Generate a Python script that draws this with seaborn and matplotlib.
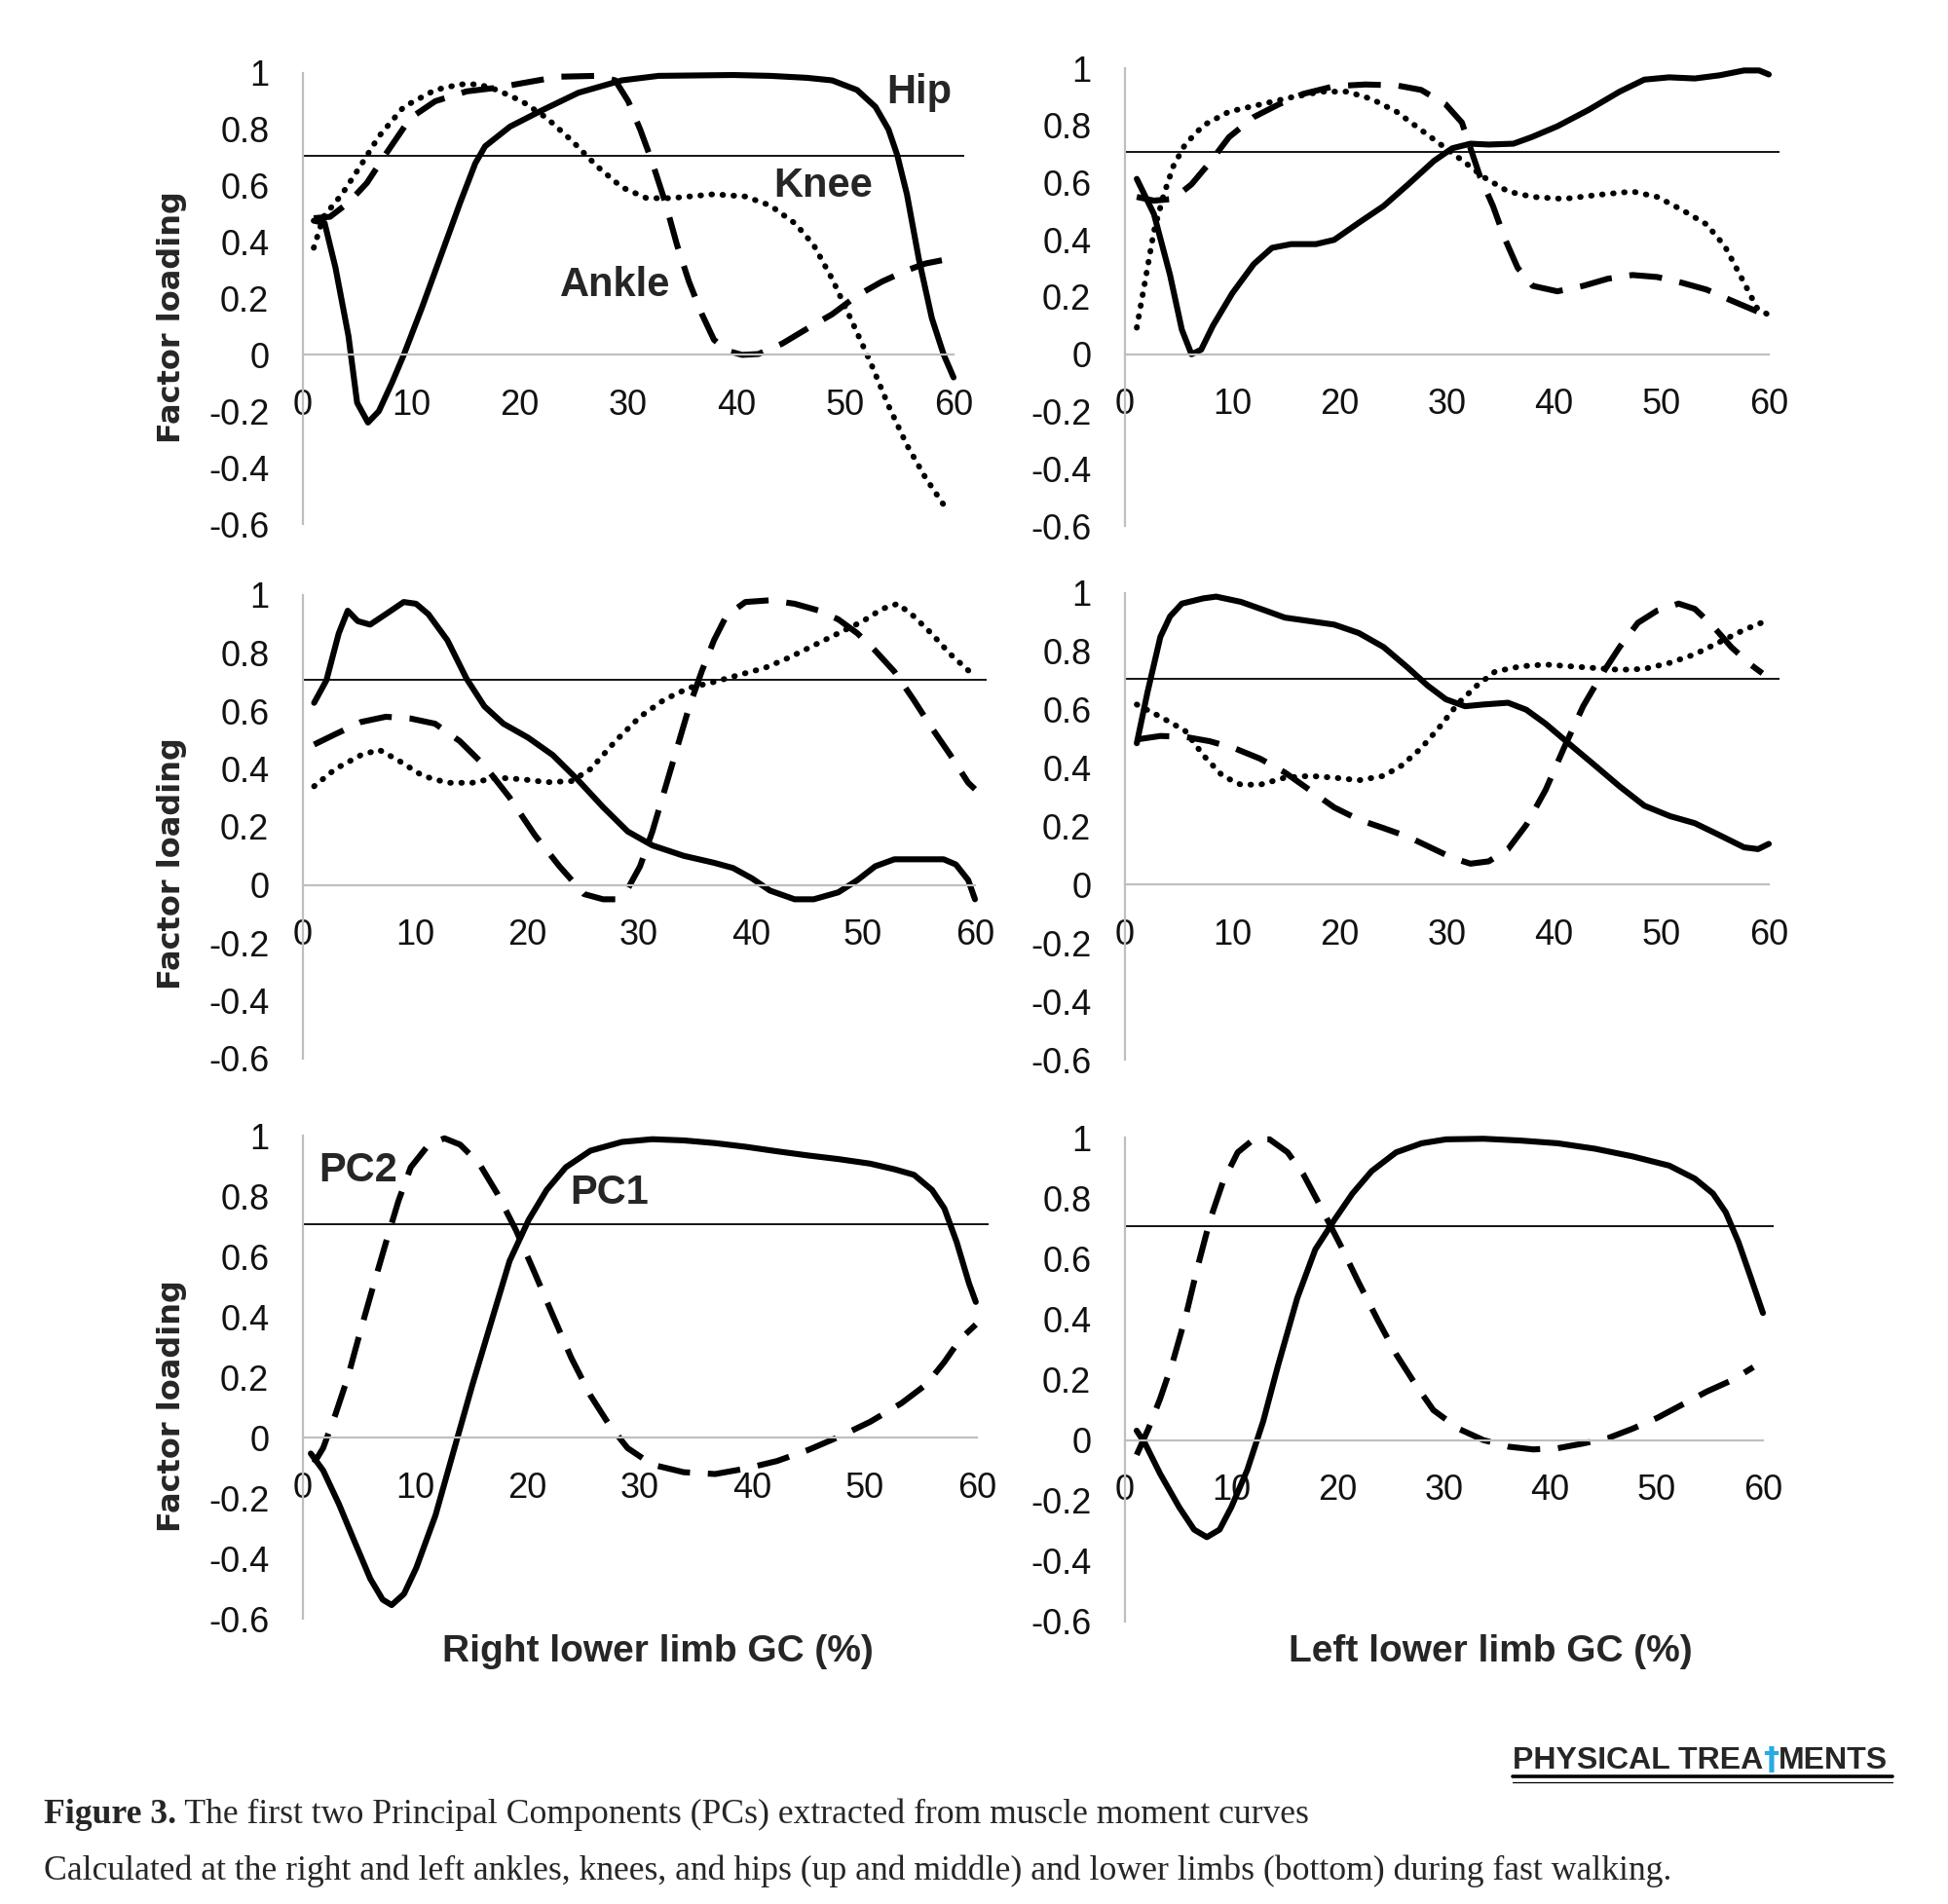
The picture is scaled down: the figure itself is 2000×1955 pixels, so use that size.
# Figure 3 - PCs from muscle moment curves (fast walking)
import matplotlib
matplotlib.use("Agg")
import matplotlib.pyplot as plt
import seaborn as sns
from matplotlib.lines import Line2D

sns.set_style("white")
plt.rcParams['font.family'] = ['Liberation Sans', 'DejaVu Sans']

# ---------------- datos ----------------
# fila superior, derecha (Hip / Knee / Ankle)
tl_hip_x = [1, 2, 3, 4.2, 5, 6, 7, 8.2, 9.3, 11, 12.8, 14.5, 15.9, 16.8, 19.1, 21.9, 25.4, 29.4, 32.8, 39.7, 43.1, 46.5, 48.8, 51.1, 52.8, 54, 54.8, 55.7, 56.8, 58, 59.1, 60]
tl_hip_y = [0.476, 0.468, 0.31, 0.067, -0.17, -0.24, -0.2, -0.10, 0.0, 0.17, 0.36, 0.54, 0.68, 0.74, 0.81, 0.865, 0.93, 0.974, 0.99, 0.993, 0.99, 0.983, 0.974, 0.94, 0.88, 0.80, 0.71, 0.57, 0.34, 0.13, 0.0, -0.08]
tl_knee_x = [1, 1.9, 3.6, 5.3, 7, 9.3, 12.2, 14.5, 16.2, 17.9, 20.2, 22.5, 24.8, 27.1, 29.4, 31.7, 33.9, 37.9, 40.8, 43.1, 45.4, 47.1, 48.8, 50.5, 52.3, 54, 55.7, 57.4, 59.4]
tl_knee_y = [0.38, 0.49, 0.57, 0.67, 0.775, 0.88, 0.94, 0.96, 0.96, 0.94, 0.90, 0.84, 0.76, 0.67, 0.595, 0.556, 0.556, 0.57, 0.562, 0.53, 0.466, 0.39, 0.27, 0.13, -0.023, -0.18, -0.32, -0.435, -0.55]
tl_ankle_x = [1, 2.5, 4.2, 5.9, 7.6, 9.9, 12.2, 15.1, 17.9, 20.8, 23.6, 27.1, 28.8, 30, 31.1, 32.2, 33.4, 34.5, 35.6, 36.8, 37.9, 39.1, 40.5, 42, 44.2, 46.5, 48.8, 51.1, 53.4, 55.7, 57.4, 59.1, 60]
tl_ankle_y = [0.485, 0.49, 0.54, 0.61, 0.71, 0.84, 0.90, 0.935, 0.948, 0.968, 0.987, 0.99, 0.974, 0.90, 0.80, 0.685, 0.543, 0.39, 0.26, 0.144, 0.054, 0.015, 0.0, 0.003, 0.04, 0.093, 0.144, 0.21, 0.26, 0.30, 0.324, 0.337, 0.324]

# fila superior, izquierda
tr_hip_x = [1.1, 2.7, 4.2, 5.3, 6.2, 7.1, 8.2, 10, 12, 13.7, 15.5, 17.8, 19.5, 21.8, 24.1, 26.4, 28.8, 30.5, 32.2, 33.9, 36.2, 37.9, 40.3, 43.2, 46.1, 48.4, 50.7, 53.1, 55.4, 57.7, 59.1, 60]
tr_hip_y = [0.613, 0.49, 0.277, 0.086, 0.0, 0.016, 0.10, 0.213, 0.315, 0.372, 0.385, 0.385, 0.40, 0.46, 0.518, 0.594, 0.676, 0.72, 0.736, 0.733, 0.736, 0.759, 0.797, 0.854, 0.918, 0.96, 0.968, 0.964, 0.975, 0.992, 0.992, 0.978]
tr_knee_x = [1.1, 1.85, 2.7, 3.6, 4.5, 5.6, 7.3, 9.7, 12.6, 15.5, 18.3, 20.7, 23, 25.3, 27.6, 29.9, 31.7, 33.4, 35.7, 38, 40.9, 43.8, 47.3, 49.6, 51.9, 54.2, 55.9, 57.7, 58.9, 60]
tr_knee_y = [0.093, 0.25, 0.43, 0.556, 0.657, 0.733, 0.80, 0.848, 0.873, 0.898, 0.918, 0.918, 0.892, 0.848, 0.784, 0.72, 0.67, 0.62, 0.569, 0.55, 0.543, 0.556, 0.569, 0.55, 0.505, 0.454, 0.378, 0.25, 0.162, 0.137]
tr_ankle_x = [1.1, 2.7, 4.5, 6.2, 7.9, 9.7, 12, 14.3, 16.6, 19.5, 22.4, 25.3, 27.6, 29.9, 31.4, 32.2, 33.1, 34.3, 35.4, 36.6, 38, 40.3, 42.7, 45, 47.3, 49.6, 51.9, 54.2, 56.5, 58.9, 60]
tr_ankle_y = [0.55, 0.537, 0.543, 0.594, 0.67, 0.759, 0.829, 0.873, 0.91, 0.937, 0.943, 0.94, 0.924, 0.873, 0.81, 0.72, 0.62, 0.518, 0.404, 0.302, 0.239, 0.22, 0.239, 0.264, 0.277, 0.27, 0.25, 0.226, 0.188, 0.15, 0.13]

# fila del medio, derecha
ml_hip_x = [1, 2.1, 3.2, 4, 4.9, 6, 7.4, 9, 10.1, 11.2, 12.9, 14.6, 16.2, 17.9, 20.1, 22.3, 24.5, 26.8, 29, 31.2, 34, 36.7, 38.4, 40.1, 41.7, 43.9, 45.6, 47.8, 49.5, 51.1, 52.8, 55, 57.2, 58.3, 59.4, 60]
ml_hip_y = [0.628, 0.706, 0.868, 0.946, 0.91, 0.898, 0.934, 0.976, 0.97, 0.934, 0.844, 0.712, 0.616, 0.556, 0.508, 0.448, 0.364, 0.268, 0.184, 0.136, 0.10, 0.076, 0.058, 0.022, -0.02, -0.05, -0.05, -0.026, 0.016, 0.064, 0.088, 0.088, 0.088, 0.07, 0.016, -0.05]
ml_knee_x = [1, 2.9, 5.2, 6.8, 8.5, 10.7, 12.9, 15.1, 17.3, 19.6, 21.8, 24, 25.7, 27.9, 30.1, 32.3, 34.5, 36.7, 38.9, 41.2, 43.4, 45.6, 47.8, 50, 51.7, 53.1, 54.5, 56.1, 57.8, 59.4, 60]
ml_knee_y = [0.34, 0.40, 0.448, 0.466, 0.43, 0.376, 0.352, 0.352, 0.37, 0.364, 0.354, 0.358, 0.40, 0.496, 0.58, 0.64, 0.68, 0.70, 0.724, 0.748, 0.784, 0.826, 0.868, 0.91, 0.952, 0.97, 0.928, 0.868, 0.796, 0.74, 0.72]
ml_ankle_x = [1, 2.9, 5.2, 7.4, 9.6, 11.8, 14, 16.2, 18.4, 20.7, 22.9, 25.1, 26.8, 27.9, 29, 30.1, 31.2, 32.3, 33.4, 34.5, 35.6, 36.7, 37.8, 39.5, 41.7, 43.9, 46.1, 47.8, 49.5, 51.1, 52.8, 54.5, 56.1, 57.8, 59.4, 60]
ml_ankle_y = [0.484, 0.52, 0.562, 0.58, 0.574, 0.556, 0.496, 0.412, 0.304, 0.172, 0.064, -0.032, -0.05, -0.05, -0.014, 0.064, 0.184, 0.328, 0.472, 0.616, 0.736, 0.844, 0.928, 0.976, 0.982, 0.97, 0.946, 0.916, 0.868, 0.808, 0.736, 0.64, 0.544, 0.448, 0.352, 0.33]

# fila del medio, izquierda
mr_hip_x = [1.1, 2.1, 3.3, 4.2, 5.3, 7.3, 8.5, 10.8, 13.1, 14.9, 17.2, 19.5, 21.8, 24.1, 26.4, 28.2, 29.9, 31.7, 33.4, 35.7, 37.4, 39.2, 41.5, 43.8, 46.1, 48.4, 50.8, 53.1, 55.4, 57.7, 59, 60]
mr_hip_y = [0.485, 0.66, 0.85, 0.92, 0.964, 0.982, 0.988, 0.97, 0.94, 0.916, 0.904, 0.892, 0.863, 0.815, 0.743, 0.683, 0.636, 0.612, 0.618, 0.624, 0.60, 0.552, 0.48, 0.409, 0.337, 0.271, 0.235, 0.211, 0.17, 0.128, 0.122, 0.14]
mr_knee_x = [1.1, 3.3, 5.6, 7.3, 9.1, 10.8, 12.6, 14.9, 17.2, 19.5, 21.8, 24.1, 25.8, 27.6, 29.3, 31.1, 32.8, 34.5, 36.9, 39.2, 41.5, 43.8, 46.1, 48.4, 50.8, 53.1, 55.4, 57.7, 59.7]
mr_knee_y = [0.618, 0.576, 0.528, 0.444, 0.373, 0.343, 0.343, 0.367, 0.373, 0.367, 0.358, 0.373, 0.409, 0.468, 0.54, 0.624, 0.683, 0.731, 0.749, 0.755, 0.749, 0.743, 0.737, 0.74, 0.761, 0.79, 0.832, 0.874, 0.904]
mr_ankle_x = [1.1, 3.3, 5.6, 7.9, 10.2, 12.6, 14.9, 17.2, 19.5, 21.8, 24.1, 26.4, 28.8, 30.5, 32.2, 33.9, 35.7, 37.4, 39.2, 40.9, 42.7, 44.4, 46.1, 47.8, 49.6, 51.6, 53.1, 54.8, 56.5, 58.3, 59.4]
mr_ankle_y = [0.498, 0.51, 0.507, 0.492, 0.468, 0.432, 0.385, 0.325, 0.265, 0.223, 0.194, 0.164, 0.122, 0.092, 0.072, 0.08, 0.122, 0.205, 0.325, 0.468, 0.612, 0.719, 0.815, 0.898, 0.94, 0.964, 0.946, 0.887, 0.815, 0.755, 0.725]

# fila inferior (miembro inferior completo) PC1 / PC2
bl_pc1_x = [0.7, 1.8, 3.2, 4.6, 6, 7.1, 7.9, 9, 10.1, 11.8, 13.4, 15.1, 16.8, 18.4, 20.1, 21.7, 23.4, 25.6, 28.4, 31.1, 33.9, 36.7, 39.4, 42.2, 45, 47.7, 50.5, 52.7, 54.4, 56, 57.1, 58.2, 59.3, 59.9]
bl_pc1_y = [-0.053, -0.109, -0.22, -0.345, -0.468, -0.537, -0.555, -0.518, -0.431, -0.258, -0.047, 0.176, 0.387, 0.585, 0.721, 0.82, 0.895, 0.95, 0.979, 0.988, 0.984, 0.975, 0.963, 0.948, 0.934, 0.922, 0.907, 0.888, 0.87, 0.82, 0.759, 0.647, 0.51, 0.449]
bl_pc2_x = [1, 1.8, 2.9, 4, 5.1, 6.25, 7.4, 8.5, 9.6, 11.2, 12.6, 14, 15.7, 17.3, 19, 20.6, 22.3, 23.9, 25.6, 27.3, 28.9, 31.1, 33.9, 36.7, 39.4, 42.2, 45, 47.7, 50.5, 53.3, 55.5, 57.1, 58.5, 59.9]
bl_pc2_y = [-0.084, -0.035, 0.077, 0.20, 0.35, 0.50, 0.647, 0.783, 0.895, 0.97, 0.991, 0.97, 0.907, 0.808, 0.684, 0.548, 0.40, 0.263, 0.139, 0.04, -0.035, -0.09, -0.115, -0.121, -0.103, -0.078, -0.041, 0.002, 0.052, 0.114, 0.176, 0.25, 0.325, 0.374]
br_pc1_x = [1.1, 1.9, 3.3, 5.1, 6.5, 7.7, 8.9, 10, 11.5, 13, 14.4, 16.2, 17.9, 19.7, 21.4, 23.2, 25.5, 27.9, 30.2, 33.7, 37.2, 40.7, 44.2, 47.7, 51.2, 53.6, 55.3, 56.5, 57.7, 58.8, 60]
br_pc1_y = [0.031, -0.012, -0.111, -0.222, -0.296, -0.321, -0.296, -0.222, -0.099, 0.062, 0.247, 0.469, 0.63, 0.728, 0.815, 0.889, 0.951, 0.981, 0.994, 0.996, 0.99, 0.981, 0.963, 0.938, 0.907, 0.864, 0.815, 0.753, 0.654, 0.543, 0.42]
br_pc2_x = [1.1, 2.2, 3.3, 4.5, 5.7, 6.8, 8, 9.2, 10.6, 12.1, 13.6, 15.3, 16.8, 18.5, 20.3, 22, 23.8, 25.5, 27.3, 29, 31.4, 33.7, 36.1, 38.4, 40.7, 43, 45.4, 47.7, 50.1, 52.4, 54.7, 57.1, 59.1]
br_pc2_y = [-0.049, 0.037, 0.136, 0.259, 0.407, 0.568, 0.728, 0.852, 0.951, 0.994, 0.994, 0.951, 0.877, 0.765, 0.642, 0.519, 0.395, 0.284, 0.185, 0.099, 0.037, 0.0, -0.022, -0.031, -0.027, -0.012, 0.006, 0.037, 0.074, 0.117, 0.16, 0.198, 0.241]

umbral = 0.707
x_ticks = [0, 10, 20, 30, 40, 50, 60]
y_ticks = [-0.6, -0.4, -0.2, 0, 0.2, 0.4, 0.6, 0.8, 1]
y_tick_labels = ["-0.6", "-0.4", "-0.2", "0", "0.2", "0.4", "0.6", "0.8", "1"]

# ---------------- figura ----------------
W, H = 2000, 1955
fig = plt.figure(figsize=(W / 100, H / 100), dpi=100)
XMAX, YMIN, YMAX = 61, -0.62, 1.02
GRIS = "#BFBFBF"
ANGOSTA = ["Liberation Sans Narrow", "Liberation Sans"]
estilos = {
    "solid": dict(linestyle="-", linewidth=4.4),
    "dash": dict(linestyle=(0, (5.5, 3)), linewidth=4.4),
    "dot": dict(linestyle=(0, (0.1, 1.8)), linewidth=4.3, dash_capstyle="round"),
}


def panel(x0, x60, y1, ym06):
    # posiciones en pixeles de la imagen original
    ux = (x60 - x0) / 60
    uy = (ym06 - y1) / 1.6
    left, right = x0, x0 + XMAX * ux
    top, bottom = y1 - (YMAX - 1) * uy, ym06 + (-0.6 - YMIN) * uy
    ax = fig.add_axes([left / W, 1 - bottom / H, (right - left) / W, (bottom - top) / H])
    ax.set_xlim(0, XMAX)
    ax.set_ylim(YMIN, YMAX)
    for s in ["top", "right"]:
        ax.spines[s].set_visible(False)
    ax.spines["left"].set_bounds(-0.6, 1)
    ax.spines["bottom"].set_position(("data", 0))
    ax.spines["bottom"].set_bounds(0, 60)
    for s in ["left", "bottom"]:
        ax.spines[s].set_color(GRIS)
        ax.spines[s].set_linewidth(1.6)
    ax.set_xticks(x_ticks)
    ax.set_xticklabels([str(t) for t in x_ticks])
    ax.set_yticks(y_ticks)
    ax.set_yticklabels(y_tick_labels)
    ax.tick_params(axis="both", direction="out", length=10, width=1.6, color=GRIS,
                   pad=15, labelsize=26, labelcolor="#111111")
    ax.axhline(umbral, color="black", linewidth=1.3, zorder=1)
    return ax


def curva(ax, x, y, estilo):
    sns.lineplot(x=x, y=y, ax=ax, color="black", **estilos[estilo])


etiqueta = dict(fontweight="bold", ha="center", va="center", fontsize=30, family=ANGOSTA)

ax1 = panel(311, 979, 75, 538)
curva(ax1, tl_hip_x, tl_hip_y, "solid")
curva(ax1, tl_knee_x, tl_knee_y, "dot")
curva(ax1, tl_ankle_x, tl_ankle_y, "dash")
ax1.text(56.8, 0.93, "Hip", **etiqueta)
ax1.text(48.0, 0.6, "Knee", **etiqueta)
ax1.text(28.8, 0.245, "Ankle", **etiqueta)

ax2 = panel(1155, 1816, 70, 540)
curva(ax2, tr_hip_x, tr_hip_y, "solid")
curva(ax2, tr_knee_x, tr_knee_y, "dot")
curva(ax2, tr_ankle_x, tr_ankle_y, "dash")

ax3 = panel(311, 1001, 611, 1087)
curva(ax3, ml_hip_x, ml_hip_y, "solid")
curva(ax3, ml_knee_x, ml_knee_y, "dot")
curva(ax3, ml_ankle_x, ml_ankle_y, "dash")

ax4 = panel(1155, 1816, 609, 1088)
curva(ax4, mr_hip_x, mr_hip_y, "solid")
curva(ax4, mr_knee_x, mr_knee_y, "dot")
curva(ax4, mr_ankle_x, mr_ankle_y, "dash")

ax5 = panel(311, 1003, 1166, 1662)
curva(ax5, bl_pc1_x, bl_pc1_y, "solid")
curva(ax5, bl_pc2_x, bl_pc2_y, "dash")
ax5.text(4.9, 0.885, "PC2", **etiqueta)
ax5.text(27.3, 0.81, "PC1", **etiqueta)

ax6 = panel(1155, 1810, 1168, 1665)
curva(ax6, br_pc1_x, br_pc1_y, "solid")
curva(ax6, br_pc2_x, br_pc2_y, "dash")

# textos de ejes
for yc in [326, 887, 1444]:
    fig.text(177 / W, 1 - yc / H, "Factor loading", rotation=90, ha="center", va="center",
             fontsize=23, fontweight="bold", family="DejaVu Sans")
xl = dict(ha="center", va="center", fontsize=28, fontweight="bold", family=ANGOSTA)
fig.text(675 / W, 1 - 1696 / H, "Right lower limb GC (%)", **xl)
fig.text(1530 / W, 1 - 1696 / H, "Left lower limb GC (%)", **xl)

# logo
t1 = fig.text(1553 / W, 1 - 1816 / H, "PHYSICAL TREA", fontsize=23, fontweight="bold",
              va="baseline", family=ANGOSTA)
t2 = plt.annotate("\u2020", xy=(1, 0), xycoords=t1, va="bottom", color="#29ABE2",
                  fontsize=23, fontweight="bold", family="DejaVu Sans")
plt.annotate("MENTS", xy=(1, 0), xycoords=t2, va="bottom", fontsize=23, fontweight="bold",
             family=ANGOSTA)
fig.add_artist(Line2D([1553 / W, 1943 / W], [1 - 1824 / H] * 2, color="black", linewidth=2.6))
fig.add_artist(Line2D([1553 / W, 1943 / W], [1 - 1830 / H] * 2, color="black", linewidth=0.9))

# leyenda de la figura
cap = dict(fontsize=25.7, family="Liberation Serif", va="bottom")
c1 = fig.text(45 / W, 1 - 1880 / H, "Figure 3.", fontweight="bold", **cap)
plt.annotate(" The first two Principal Components (PCs) extracted from muscle moment curves",
             xy=(1, 0), xycoords=c1, **cap)
fig.text(45 / W, 1 - 1938 / H,
         "Calculated at the right and left ankles, knees, and hips (up and middle) and lower limbs (bottom) during fast walking.",
         **cap)

fig.savefig("out.png", dpi=100, facecolor="white")
